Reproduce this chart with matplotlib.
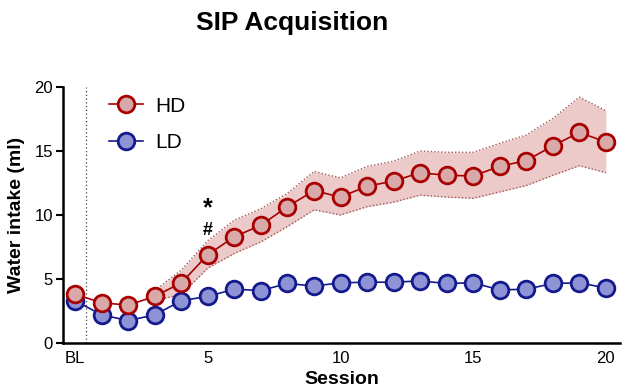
import numpy as np
import matplotlib.pyplot as plt

plt.rcParams['font.family'] = ['Liberation Sans', 'DejaVu Sans']

# session 0 = baseline (BL)
sessions = list(range(0, 21))
hd_mean = [3.8, 3.15, 2.95, 3.65, 4.7, 6.9, 8.3, 9.2, 10.65, 11.9, 11.4,
           12.25, 12.65, 13.3, 13.1, 13.05, 13.8, 14.25, 15.4, 16.45, 15.7]
ld_mean = [3.3, 2.2, 1.75, 2.2, 3.3, 3.65, 4.2, 4.1, 4.65, 4.45, 4.7,
           4.75, 4.75, 4.85, 4.65, 4.7, 4.15, 4.2, 4.65, 4.7, 4.3]
# SEM band of HD (shown from session 3)
band_sessions = list(range(3, 21))
hd_upper = [4.1, 5.7, 8.0, 9.6, 10.5, 11.7, 13.4, 12.9, 13.8, 14.2, 15.0,
            14.9, 14.9, 15.6, 16.25, 17.55, 19.2, 18.15]
hd_lower = [3.3, 3.8, 5.85, 7.0, 7.9, 9.1, 10.4, 10.0, 10.65, 11.0, 11.55,
            11.4, 11.3, 11.8, 12.3, 13.1, 13.85, 13.3]

xticks = [0, 5, 10, 15, 20]
xticklabels = ['BL', '5', '10', '15', '20']

hd_edge = '#a80000'
hd_face = '#d9a8a8'
ld_edge = '#141a8c'
ld_face = '#8e93d6'

fig = plt.figure(figsize=(6.24, 3.9), dpi=100)
ax = fig.add_axes([0.1005, 0.1205, 0.893, 0.6565])

ax.fill_between(band_sessions, hd_lower, hd_upper, color='#eccaca', lw=0, zorder=1)
ax.plot(band_sessions, hd_upper, ls=(0, (1, 1.5)), color='#a05a5a', lw=1, zorder=1)
ax.plot(band_sessions, hd_lower, ls=(0, (1, 1.5)), color='#a05a5a', lw=1, zorder=1)

ax.axvline(0.4, color='#444444', ls=(0, (1, 2)), lw=0.9, zorder=0)

ax.plot(sessions, ld_mean, '-o', color=ld_edge, mfc=ld_face, mec=ld_edge,
        ms=12, mew=2, lw=1.2, label='LD', zorder=3)
ax.plot(sessions, hd_mean, '-o', color=hd_edge, mfc=hd_face, mec=hd_edge,
        ms=12, mew=2, lw=1.2, label='HD', zorder=4)

ax.text(5, 10.5, '*', ha='center', va='center', fontsize=18, fontweight='bold')
ax.text(5, 8.8, '#', ha='center', va='center', fontsize=13, fontweight='bold')

ax.set_xlim(-0.47, 20.53)
ax.set_ylim(0, 20)
ax.set_xticks(xticks)
ax.set_xticklabels(xticklabels)
ax.set_yticks([0, 5, 10, 15, 20])
ax.tick_params(axis='y', length=5, width=1.5, labelsize=12, pad=2)
ax.tick_params(axis='x', length=0, labelsize=12, pad=6)
for s in ['top', 'right']:
    ax.spines[s].set_visible(False)
for s in ['left', 'bottom']:
    ax.spines[s].set_linewidth(1.8)

ax.set_ylabel('Water intake (ml)', fontsize=14, fontweight='bold', labelpad=7)
ax.set_xlabel('Session', fontsize=14, fontweight='bold', labelpad=3)

handles, labels = ax.get_legend_handles_labels()
ax.legend(handles[::-1], labels[::-1], loc='upper left', bbox_to_anchor=(0.05, 1.035),
          frameon=False, fontsize=15, handlelength=1.6, labelspacing=0.85,
          handletextpad=0.6)

fig.text(0.468, 0.94, 'SIP Acquisition', ha='center', va='center',
         fontsize=19, fontweight='bold')

fig.savefig('out.png', dpi=100)
